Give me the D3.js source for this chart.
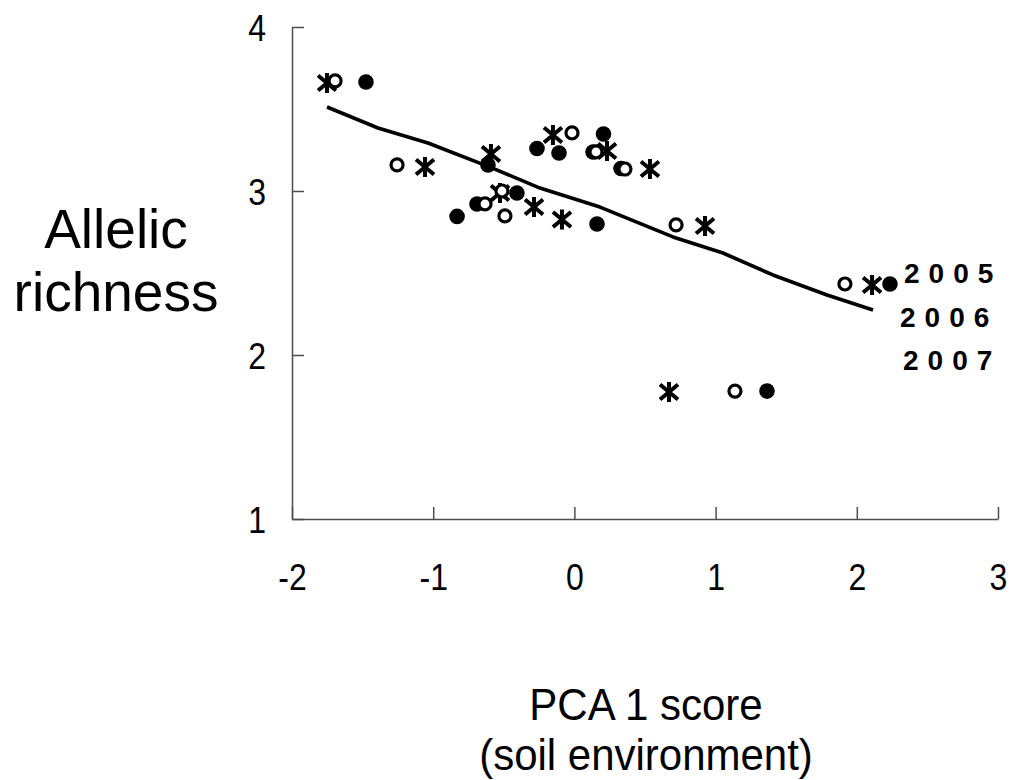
<!DOCTYPE html>
<html>
<head>
<meta charset="utf-8">
<script src="https://cdn.jsdelivr.net/npm/d3@7"></script>
<style>
  html, body { margin: 0; padding: 0; background: #fff; }
  svg { display: block; font-family: "Liberation Sans", Arial, sans-serif; }
</style>
</head>
<body>
<svg id="chart" width="1030" height="780"></svg>
<script>
// ---- Data ----
const xTicks = [-2, -1, 0, 1, 2, 3];
const yTicks = [1, 2, 3, 4];
const years = ["2005", "2006", "2007"];

// filled circles
const filledX = [-1.476, -0.612, -0.265, -0.109, 0.206, 0.132, 0.330, -0.831, -0.690, -0.407, 0.160, 2.235, 1.364];
const filledY = [3.665, 3.159, 3.259, 3.232, 3.348, 3.238, 3.137, 2.845, 2.921, 2.988, 2.799, 2.433, 1.780];
// asterisks
const starX = [-1.752, -1.058, -0.591, -0.152, 0.231, 0.535, -0.527, -0.286, -0.088, 0.925, 2.108, 0.670];
const starY = [3.659, 3.146, 3.226, 3.341, 3.244, 3.134, 2.988, 2.902, 2.826, 2.787, 2.427, 1.774];
// open circles
const openX = [-1.695, -1.256, -0.017, 0.153, 0.358, -0.633, -0.492, -0.513, 0.720, 1.916, 1.137];
const openY = [3.671, 3.159, 3.354, 3.238, 3.134, 2.921, 2.848, 3.000, 2.793, 2.433, 1.780];

// fitted (smoothed) line
const fitX = [-1.752, -1.391, -1.037, -0.598, -0.244, 0.181, 0.698, 1.052, 1.406, 1.789, 2.115];
const fitY = [3.512, 3.384, 3.293, 3.146, 3.018, 2.902, 2.720, 2.622, 2.488, 2.366, 2.274];

// ---- Drawing ----
const svg = d3.select("#chart");
const x = d3.scaleLinear().domain([-2, 3]).range([292, 998]);
const y = d3.scaleLinear().domain([1, 4]).range([519, 27]);
const axisColor = "#4d4d4d";
const tickFont = 32, tickStretch = 1.15;

// x axis (ticks pointing inward/up)
const gx = svg.append("g").attr("transform", `translate(0,${y(1)})`)
  .call(d3.axisBottom(x).tickValues(xTicks).tickSize(-12).tickSizeOuter(0).tickFormat(d3.format("d")));
gx.select(".domain").attr("stroke", axisColor).attr("stroke-width", 1.5);
gx.selectAll(".tick line").attr("stroke", axisColor).attr("stroke-width", 1.5);
gx.selectAll(".tick text").attr("font-size", tickFont).attr("fill", "#000")
  .attr("font-family", "Liberation Sans, Arial, sans-serif")
  .attr("y", 0).attr("dy", null)
  .attr("transform", `translate(0,71) scale(1,${tickStretch})`)
  .text(d => d < 0 ? "-" + Math.abs(d) : String(d));

// y axis (ticks pointing inward/right)
const gy = svg.append("g").attr("transform", `translate(${x(-2)},0)`)
  .call(d3.axisLeft(y).tickValues(yTicks).tickSize(-12).tickSizeOuter(0).tickFormat(d3.format("d")));
gy.select(".domain").attr("stroke", axisColor).attr("stroke-width", 1.5);
gy.selectAll(".tick line").attr("stroke", axisColor).attr("stroke-width", 1.5);
gy.selectAll(".tick text").attr("font-size", tickFont).attr("fill", "#000")
  .attr("font-family", "Liberation Sans, Arial, sans-serif")
  .attr("x", 0).attr("y", 0).attr("dy", null)
  .attr("transform", `translate(-26,13) scale(1,${tickStretch})`);

// fitted line
const fitData = fitX.map((v, i) => [v, fitY[i]]);
svg.append("path").datum(fitData)
  .attr("fill", "none").attr("stroke", "#000").attr("stroke-width", 3.6)
  .attr("stroke-linejoin", "round")
  .attr("d", d3.line().x(d => x(d[0])).y(d => y(d[1])));

// filled circles
svg.append("g").selectAll("circle").data(filledX.map((v, i) => [v, filledY[i]])).join("circle")
  .attr("cx", d => x(d[0])).attr("cy", d => y(d[1])).attr("r", 7.8).attr("fill", "#000");

// asterisks
const star = (cx, cy) => {
  const h = 10, w = 9;
  return `M${cx},${cy - h}L${cx},${cy + h}` +
         `M${cx - w},${cy - h * 0.75}L${cx + w},${cy + h * 0.75}` +
         `M${cx - w},${cy + h * 0.75}L${cx + w},${cy - h * 0.75}`;
};
svg.append("g").selectAll("path").data(starX.map((v, i) => [v, starY[i]])).join("path")
  .attr("d", d => star(x(d[0]), y(d[1])))
  .attr("stroke", "#000").attr("stroke-width", 4).attr("fill", "none");

// open circles (white-filled)
svg.append("g").selectAll("circle").data(openX.map((v, i) => [v, openY[i]])).join("circle")
  .attr("cx", d => x(d[0])).attr("cy", d => y(d[1])).attr("r", 6)
  .attr("fill", "#fff").attr("stroke", "#000").attr("stroke-width", 3.2);

// year labels
const yearPos = [[904, 283], [900, 327], [903, 370]];
svg.append("g").selectAll("text").data(years).join("text")
  .attr("x", (d, i) => yearPos[i][0]).attr("y", (d, i) => yearPos[i][1])
  .attr("font-size", 28).attr("font-weight", "bold").attr("letter-spacing", 9)
  .text(d => d);

// axis titles
const yTitle = svg.append("text").attr("text-anchor", "middle").attr("font-size", 55);
yTitle.append("tspan").attr("x", 116).attr("y", 248).text("Allelic");
yTitle.append("tspan").attr("x", 116).attr("y", 311).text("richness");

const xStretch = 1.05;
const xTitle = svg.append("g").attr("transform", `translate(646,0) scale(1,${xStretch})`);
xTitle.append("text").attr("text-anchor", "middle").attr("font-size", 42)
  .attr("x", 0).attr("y", 720 / xStretch).text("PCA 1 score");
xTitle.append("text").attr("text-anchor", "middle").attr("font-size", 42)
  .attr("x", 0).attr("y", 770 / xStretch).text("(soil environment)");
</script>
</body>
</html>
